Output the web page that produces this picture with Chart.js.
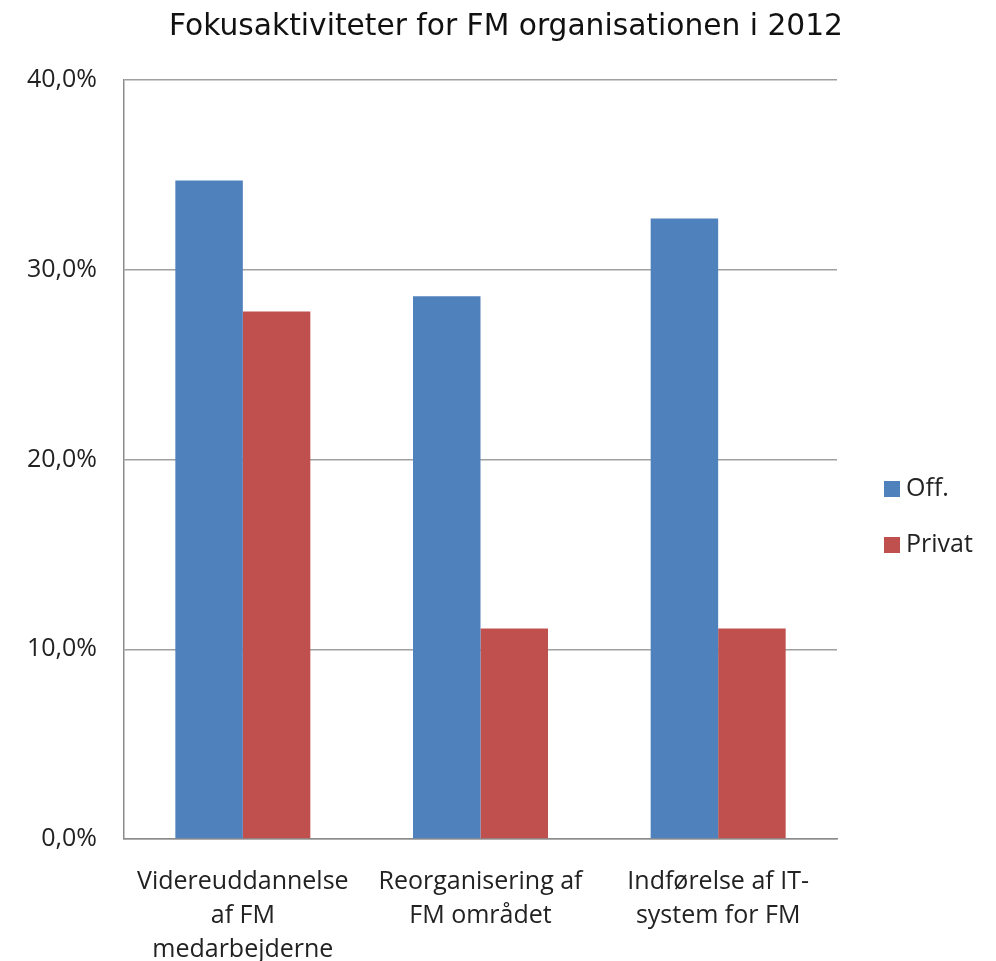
<!DOCTYPE html>
<html>
<head>
<meta charset="utf-8">
<script src="https://cdn.jsdelivr.net/npm/chart.js@4/dist/chart.umd.min.js"></script>
<style>
html,body{margin:0;padding:0;background:#fff;}
#wrap{width:996px;height:961px;position:relative;}
</style>
</head>
<body>
<div id="wrap"><canvas id="c" width="996" height="961"></canvas></div>
<script>
const titleText = "Fokusaktiviteter for FM organisationen i 2012";
const categories = [
  ["Videreuddannelse", "af FM", "medarbejderne"],
  ["Reorganisering af", "FM området"],
  ["Indførelse af IT-", "system for FM"]
];
const seriesNames = ["Off.", "Privat"];
const offValues = [34.7, 28.6, 32.7];
const privatValues = [27.8, 11.1, 11.1];
const yTicks = [0, 10, 20, 30, 40];

const colors = ["#4F81BD", "#C0504D"];
const labelFont = "'Open Sans', 'Liberation Sans', sans-serif";

const legendPlugin = {
  id: 'sideLegend',
  afterDraw(chart) {
    const ctx = chart.ctx;
    ctx.save();
    ctx.font = "25px " + labelFont;
    ctx.textBaseline = 'middle';
    ctx.textAlign = 'left';
    const ys = [489, 545];
    chart.data.datasets.forEach((ds, i) => {
      ctx.fillStyle = ds.backgroundColor;
      ctx.fillRect(884, ys[i] - 8, 16, 16);
      ctx.fillStyle = '#222';
      ctx.fillText(ds.label, 906, ys[i]);
    });
    ctx.restore();
  }
};

const titlePlugin = {
  id: 'topTitle',
  afterDraw(chart) {
    const ctx = chart.ctx;
    ctx.save();
    ctx.font = "29.7px 'DejaVu Sans', sans-serif";
    ctx.fillStyle = '#111';
    ctx.textAlign = 'center';
    ctx.textBaseline = 'alphabetic';
    ctx.fillText(titleText, 506, 35);
    ctx.restore();
  }
};

new Chart(document.getElementById('c'), {
  type: 'bar',
  data: {
    labels: categories,
    datasets: [
      { label: seriesNames[0], data: offValues, backgroundColor: colors[0] },
      { label: seriesNames[1], data: privatValues, backgroundColor: colors[1] }
    ]
  },
  options: {
    responsive: false,
    animation: false,
    devicePixelRatio: 1,
    categoryPercentage: 0.568,
    barPercentage: 1,
    layout: { padding: { left: 0, right: 159, top: 80, bottom: 0 } },
    plugins: {
      legend: { display: false },
      tooltip: { enabled: false },
      title: { display: false }
    },
    scales: {
      x: {
        grid: { display: false },
        border: { display: true, color: '#8c8c8c', width: 1.5 },
        ticks: {
          color: '#222',
          padding: 18,
          maxRotation: 0,
          autoSkip: false,
          font: { family: labelFont, size: 25, lineHeight: 1.36 }
        },
        afterFit(scale) { scale.height = 122; }
      },
      y: {
        min: 0,
        max: 40,
        afterBuildTicks(scale) { scale.ticks = yTicks.map(v => ({ value: v })); },
        grid: { color: '#a0a0a0', lineWidth: 1.5, drawTicks: false },
        border: { display: true, color: '#8c8c8c', width: 1.5 },
        ticks: {
          color: '#222',
          padding: 27,
          font: { family: labelFont, size: 25 },
          callback: v => v.toFixed(1).replace('.', ',') + '%'
        },
        afterFit(scale) { scale.width = 124; }
      }
    }
  },
  plugins: [legendPlugin, titlePlugin]
});
</script>
</body>
</html>
